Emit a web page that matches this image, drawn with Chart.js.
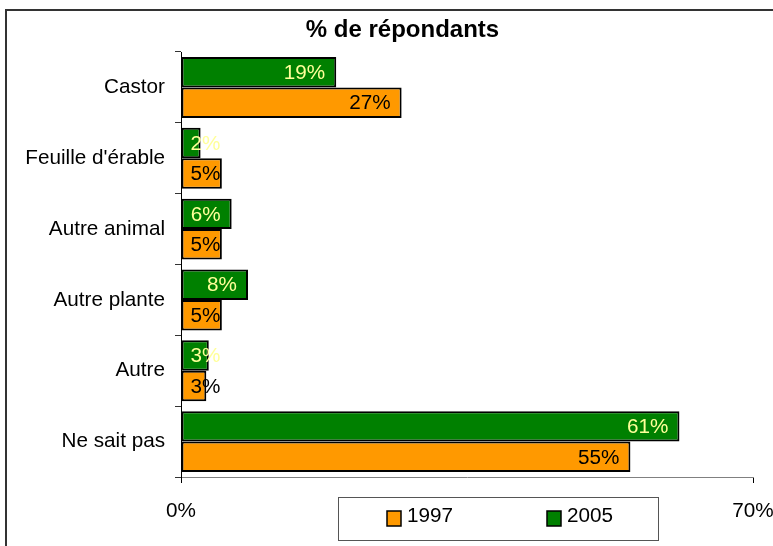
<!DOCTYPE html>
<html>
<head>
<meta charset="utf-8">
<script src="https://cdn.jsdelivr.net/npm/chart.js@4/dist/chart.umd.min.js"></script>
<style>
html,body{margin:0;padding:0;background:#fff;}
#wrap{width:773px;height:546px;position:relative;}
</style>
</head>
<body>
<div id="wrap"><canvas id="c" width="773" height="546"></canvas></div>
<script>
const title = "% de répondants";
const categories = ["Castor", "Feuille d'érable", "Autre animal", "Autre plante", "Autre", "Ne sait pas"];
const values2005 = [19, 2.4, 6.2, 8.2, 3.4, 61];
const values1997 = [27, 5, 5, 5, 3.1, 55];
const seriesNames = ["2005", "1997"];
const seriesColors = ["#008000", "#FF9900"];
const labelColors = ["#FFFF99", "#000000"];
const axisMin = 0, axisMax = 70;
const legendOrder = [1, 0];

const FONT = "'Liberation Sans', Arial, sans-serif";
Chart.defaults.font.family = FONT;
Chart.defaults.color = "#000";

const framePlugin = {
  id: 'frame',
  beforeDraw(chart) {
    const ctx = chart.ctx;
    ctx.save();
    ctx.fillStyle = '#fff';
    ctx.fillRect(0, 0, chart.width, chart.height);
    ctx.strokeStyle = '#333';
    ctx.lineWidth = 2;
    ctx.strokeRect(6, 10, 1000, 1000);
    ctx.fillStyle = '#000';
    ctx.font = "bold 24px " + FONT;
    ctx.textAlign = 'center';
    ctx.textBaseline = 'alphabetic';
    ctx.fillText(title, 402.5, 37);
    ctx.restore();
  }
};

const labelPlugin = {
  id: 'valueLabels',
  afterDatasetsDraw(chart) {
    const ctx = chart.ctx;
    ctx.save();
    ctx.font = "20.7px " + FONT;
    ctx.textBaseline = 'middle';
    ctx.textAlign = 'right';
    chart.data.datasets.forEach((ds, di) => {
      const meta = chart.getDatasetMeta(di);
      meta.data.forEach((bar, i) => {
        const txt = Math.round(ds.data[i]) + '%';
        const w = ctx.measureText(txt).width;
        const xr = Math.max(bar.x - 11, bar.base + 9 + w);
        ctx.fillStyle = labelColors[di];
        ctx.fillText(txt, xr, bar.y + 1);
      });
    });
    ctx.restore();
  }
};

const legendPlugin = {
  id: 'customLegend',
  afterDraw(chart) {
    const ctx = chart.ctx;
    ctx.save();
    ctx.strokeStyle = '#555';
    ctx.lineWidth = 1;
    ctx.strokeRect(338.5, 497.5, 320, 43);
    const itemX = [387, 547];
    ctx.font = "20.7px " + FONT;
    ctx.textBaseline = 'middle';
    ctx.textAlign = 'left';
    legendOrder.forEach((di, k) => {
      const ds = chart.data.datasets[di];
      const x = itemX[k];
      ctx.fillStyle = ds.backgroundColor;
      ctx.fillRect(x, 511, 14, 15);
      ctx.strokeStyle = '#000';
      ctx.lineWidth = 1.5;
      ctx.strokeRect(x, 511, 14, 15);
      ctx.fillStyle = '#000';
      ctx.fillText(ds.label, x + 20, 516);
    });
    ctx.restore();
  }
};

new Chart(document.getElementById('c'), {
  type: 'bar',
  data: {
    labels: categories,
    datasets: [
      { label: seriesNames[0], data: values2005, backgroundColor: seriesColors[0] },
      { label: seriesNames[1], data: values1997, backgroundColor: seriesColors[1] }
    ]
  },
  options: {
    indexAxis: 'y',
    responsive: false,
    animation: false,
    devicePixelRatio: 1,
    datasets: {
      bar: {
        borderColor: '#000',
        borderWidth: 2,
        borderSkipped: false,
        categoryPercentage: 0.86,
        barPercentage: 1
      }
    },
    layout: { padding: { top: 52, right: 20, left: 0, bottom: 0 } },
    plugins: {
      legend: { display: false },
      title: { display: false },
      tooltip: { enabled: false }
    },
    scales: {
      x: {
        min: axisMin,
        max: axisMax,
        afterFit(scale) { scale.height = 69; scale.paddingRight = 0; scale.paddingLeft = 0; },
        afterBuildTicks(scale) { scale.ticks = [{ value: axisMin }, { value: axisMax }]; },
        ticks: {
          callback: v => v + '%',
          font: { size: 20.7 },
          color: '#000',
          padding: 16,
          maxRotation: 0
        },
        grid: { drawOnChartArea: false, drawTicks: true, tickLength: 6, color: '#000' },
        border: { display: true, color: '#808080', width: 1 }
      },
      y: {
        afterFit(scale) { scale.width = 181; },
        ticks: { font: { size: 20.7 }, color: '#000', padding: 10 },
        grid: { drawOnChartArea: false, drawTicks: true, tickLength: 6, color: '#333', offset: true },
        border: { display: true, color: '#000', width: 1 }
      }
    }
  },
  plugins: [framePlugin, labelPlugin, legendPlugin]
});
</script>
</body>
</html>
